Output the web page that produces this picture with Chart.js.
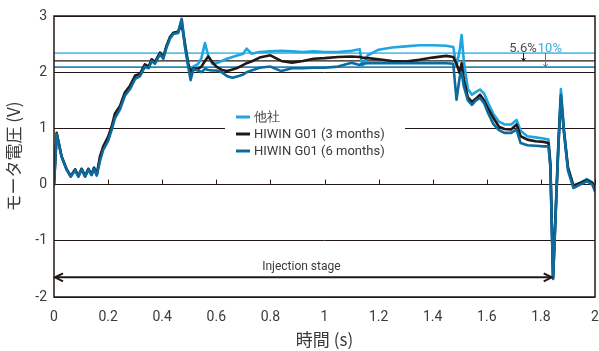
<!DOCTYPE html>
<html>
<head>
<meta charset="utf-8">
<script src="https://cdn.jsdelivr.net/npm/chart.js@4/dist/chart.umd.min.js"></script>
<style>
  html, body { margin: 0; padding: 0; background: #fff; }
  #wrap { width: 599px; height: 351px; }
</style>
</head>
<body>
<div id="wrap"><canvas id="voltChart"></canvas></div>
<script>
// time axis (s), shared by all three series
const times = [
  0, 0.01, 0.028, 0.047, 0.062, 0.078, 0.09, 0.102, 0.115, 0.127,
  0.139, 0.148, 0.158, 0.17, 0.182, 0.2, 0.213, 0.225, 0.244, 0.262,
  0.281, 0.3, 0.318, 0.336, 0.35, 0.361, 0.373, 0.392, 0.404, 0.416,
  0.429, 0.441, 0.459, 0.472, 0.484, 0.496, 0.505, 0.515, 0.533, 0.545,
  0.558, 0.57, 0.585, 0.6, 0.62, 0.64, 0.66, 0.68, 0.7, 0.712,
  0.73, 0.76, 0.8, 0.84, 0.88, 0.92, 0.96, 1.0, 1.05, 1.1,
  1.13, 1.14, 1.16, 1.2, 1.25, 1.3, 1.35, 1.4, 1.45, 1.476,
  1.488, 1.5, 1.507, 1.515, 1.53, 1.545, 1.56, 1.575, 1.59, 1.605,
  1.625, 1.645, 1.665, 1.69, 1.71, 1.725, 1.75, 1.78, 1.81, 1.828,
  1.835, 1.845, 1.852, 1.865, 1.874, 1.885, 1.9, 1.92, 1.945, 1.97,
  1.99, 2.0
];

// 他社
const otherMaker = [
  0, 0.9, 0.5, 0.27, 0.15, 0.27, 0.15, 0.28, 0.15, 0.28,
  0.18, 0.3, 0.18, 0.46, 0.66, 0.82, 1.0, 1.22, 1.37, 1.6,
  1.73, 1.9, 1.95, 2.12, 2.08, 2.22, 2.17, 2.34, 2.25, 2.46,
  2.63, 2.69, 2.72, 2.94, 2.52, 2.16, 2.0, 2.1, 2.15, 2.25,
  2.52, 2.3, 2.15, 2.16, 2.2, 2.24, 2.27, 2.3, 2.33, 2.42,
  2.33, 2.36, 2.37, 2.38, 2.37, 2.36, 2.37, 2.36, 2.36, 2.38,
  2.41, 2.1, 2.3, 2.4, 2.44, 2.46, 2.48, 2.48, 2.47, 2.45,
  2.1, 2.4, 2.66, 2.2, 1.7, 1.6, 1.65, 1.69, 1.62, 1.45,
  1.25, 1.12, 1.07, 1.07, 1.15, 0.96, 0.86, 0.84, 0.82, 0.8,
  0.4, -1.62, -0.8, 0.8, 1.7, 1.0, 0.3, -0.02, 0.03, 0.1,
  0.04, -0.1
];

// HIWIN G01 (3 months)
const hiwin3m = [
  0, 0.92, 0.5, 0.27, 0.15, 0.27, 0.15, 0.28, 0.15, 0.28,
  0.18, 0.3, 0.18, 0.5, 0.68, 0.85, 1.03, 1.26, 1.4, 1.64,
  1.76, 1.94, 1.97, 2.14, 2.1, 2.23, 2.18, 2.35, 2.27, 2.47,
  2.62, 2.7, 2.72, 2.86, 2.5, 2.15, 2.0, 2.07, 2.06, 2.1,
  2.2, 2.28, 2.18, 2.1, 2.04, 2.02, 2.05, 2.08, 2.13, 2.16,
  2.19, 2.26, 2.3, 2.2, 2.17, 2.2, 2.24, 2.25, 2.27, 2.28,
  2.27, 2.26, 2.25, 2.23, 2.2, 2.19, 2.22, 2.26, 2.29, 2.27,
  2.15, 1.98, 2.16, 1.87, 1.55, 1.47, 1.53, 1.6, 1.5, 1.35,
  1.18, 1.03, 0.99, 0.98, 1.07, 0.86, 0.8, 0.77, 0.76, 0.74,
  0.35, -1.66, -0.8, 0.75, 1.55, 0.95, 0.3, -0.02, 0.03, 0.08,
  0.03, -0.05
];

// HIWIN G01 (6 months)
const hiwin6m = [
  0, 0.9, 0.5, 0.26, 0.14, 0.26, 0.14, 0.27, 0.14, 0.27,
  0.17, 0.28, 0.16, 0.42, 0.62, 0.78, 0.97, 1.18, 1.34, 1.58,
  1.7, 1.88, 1.93, 2.1, 2.07, 2.2, 2.15, 2.32, 2.24, 2.44,
  2.6, 2.68, 2.7, 2.95, 2.45, 2.1, 1.86, 2.05, 2.03, 2.0,
  2.06, 2.04, 2.03, 2.03, 2.0, 1.93, 1.9, 1.93, 1.96, 2.0,
  2.03, 2.08, 2.1, 2.02, 2.07, 2.07, 2.08, 2.08, 2.1, 2.17,
  2.13, 2.15, 2.16, 2.16, 2.16, 2.16, 2.16, 2.16, 2.16, 2.15,
  1.51, 1.92, 2.0, 1.75, 1.5, 1.42, 1.5, 1.54, 1.45, 1.27,
  1.07, 0.97, 0.92, 0.92, 0.98, 0.74, 0.7, 0.69, 0.68, 0.68,
  0.3, -1.68, -0.85, 0.7, 1.6, 0.95, 0.25, -0.06, 0.0, 0.06,
  0.0, -0.12
];

const seriesNames = ['他社', 'HIWIN G01 (3 months)', 'HIWIN G01 (6 months)'];
const seriesColors = ['#1ea5e2', '#231815', '#0d6a9c'];

// tick values
const xTicks = [0, 0.2, 0.4, 0.6, 0.8, 1, 1.2, 1.4, 1.6, 1.8, 2];
const yTicks = [-2, -1, 0, 1, 2, 3];

// average levels (他社, 3 months, 6 months) and the % gaps
const avgLevels = [2.34, 2.2, 2.09];
const avgColors = ['#5cbfea', '#231815', '#2a86b8'];
const gapLabels = ['5.6%', '10%'];
const gapTimes = [1.733, 1.815];

// injection stage span
const injectionSpan = [0, 1.84];
const injectionLevel = -1.65;

const ink = '#231815';
const textGray = '#3a3a3a';

function toPoints(vals) {
  return times.map((t, i) => ({ x: t, y: vals[i] }));
}

function arrowHead(ctx, x, y, dir, len, half) {
  // dir: +1 points right, -1 points left
  ctx.beginPath();
  ctx.moveTo(x - dir * len, y - half);
  ctx.lineTo(x, y);
  ctx.lineTo(x - dir * len, y + half);
  ctx.stroke();
}

const extras = {
  id: 'extras',
  beforeDatasetsDraw(chart) {
    const ctx = chart.ctx;
    const xs = chart.scales.x, ys = chart.scales.y;
    const area = chart.chartArea;
    ctx.save();
    // legend backdrop (breaks the grid line at 1)
    ctx.fillStyle = '#fff';
    ctx.fillRect(225, 108, 180, 52);
    // average level lines
    avgLevels.forEach((v, i) => {
      const y = ys.getPixelForValue(v);
      ctx.strokeStyle = avgColors[i];
      ctx.lineWidth = i === 1 ? 1.2 : 1.8;
      ctx.beginPath();
      ctx.moveTo(area.left, y);
      ctx.lineTo(area.right, y);
      ctx.stroke();
    });
    // tick marks on the zero line
    const y0 = ys.getPixelForValue(0);
    ctx.strokeStyle = ink;
    ctx.lineWidth = 1;
    xTicks.forEach(t => {
      const x = Math.round(xs.getPixelForValue(t)) + 0.5;
      ctx.beginPath();
      ctx.moveTo(x, y0);
      ctx.lineTo(x, y0 - 5);
      ctx.stroke();
    });
    ctx.restore();
  },
  afterDatasetsDraw(chart) {
    const ctx = chart.ctx;
    const xs = chart.scales.x, ys = chart.scales.y;
    const area = chart.chartArea;
    ctx.save();

    // frame
    ctx.strokeStyle = ink;
    ctx.lineWidth = 1.5;
    ctx.strokeRect(area.left, area.top, area.right - area.left, area.bottom - area.top);

    // legend
    ctx.font = '13px Roboto';
    ctx.textBaseline = 'middle';
    const rows = [117, 134, 151];
    seriesNames.forEach((name, i) => {
      ctx.strokeStyle = seriesColors[i];
      ctx.lineWidth = 3;
      ctx.beginPath();
      ctx.moveTo(236, rows[i]);
      ctx.lineTo(250, rows[i]);
      ctx.stroke();
      ctx.fillStyle = textGray;
      ctx.fillText(name, 254, rows[i] + 1);
    });

    // gap arrows and labels
    const yTop = ys.getPixelForValue(avgLevels[0]);
    [1, 2].forEach((k, j) => {
      const x = Math.round(xs.getPixelForValue(gapTimes[j])) + 0.5;
      const yb = ys.getPixelForValue(avgLevels[k]);
      ctx.strokeStyle = j === 0 ? ink : '#2a86b8';
      ctx.lineWidth = 1;
      ctx.beginPath();
      ctx.moveTo(x, yTop);
      ctx.lineTo(x, yb);
      ctx.moveTo(x - 2, yb - 3);
      ctx.lineTo(x, yb);
      ctx.lineTo(x + 2, yb - 3);
      ctx.stroke();
    });
    const xLab = xs.getPixelForValue(gapTimes[0]) + 14;
    ctx.font = '13px Roboto';
    ctx.textBaseline = 'alphabetic';
    ctx.textAlign = 'right';
    ctx.fillStyle = '#4a4a4a';
    ctx.fillText(gapLabels[0], xLab, 52);
    ctx.textAlign = 'left';
    ctx.fillStyle = '#3fa9dc';
    ctx.fillText(gapLabels[1], xLab + 1, 52);

    // injection stage arrow
    const xa = xs.getPixelForValue(injectionSpan[0]) + 1;
    const xb = xs.getPixelForValue(injectionSpan[1]);
    const ya = ys.getPixelForValue(injectionLevel);
    ctx.strokeStyle = ink;
    ctx.lineWidth = 2;
    ctx.beginPath();
    ctx.moveTo(xa, ya);
    ctx.lineTo(xb, ya);
    ctx.stroke();
    arrowHead(ctx, xa, ya, -1, 8, 4);
    arrowHead(ctx, xb, ya, 1, 8, 4);
    ctx.font = '12px Roboto';
    ctx.textAlign = 'center';
    ctx.textBaseline = 'middle';
    ctx.fillStyle = textGray;
    ctx.fillText('Injection stage', (xa + xb) / 2 - 2, ya - 10);

    ctx.restore();
  }
};

const ctx = document.getElementById('voltChart').getContext('2d');
const voltChart = new Chart(ctx, {
  type: 'line',
  data: {
    datasets: [
      { label: seriesNames[0], data: toPoints(otherMaker), borderColor: seriesColors[0], order: 3 },
      { label: seriesNames[1], data: toPoints(hiwin3m), borderColor: seriesColors[1], order: 2 },
      { label: seriesNames[2], data: toPoints(hiwin6m), borderColor: seriesColors[2], order: 1 }
    ]
  },
  options: {
    responsive: true,
    maintainAspectRatio: false,
    animation: false,
    layout: { padding: { left: 0, right: 4, top: 16, bottom: 0 } },
    elements: {
      line: { borderWidth: 2.6, tension: 0, borderJoinStyle: 'round', borderCapStyle: 'round' },
      point: { radius: 0 }
    },
    plugins: {
      legend: { display: false },
      tooltip: { enabled: false }
    },
    scales: {
      x: {
        type: 'linear',
        min: 0,
        max: 2,
        afterBuildTicks: scale => { scale.ticks = xTicks.map(v => ({ value: v })); },
        afterFit: scale => {
          scale.height = 54;
          scale.paddingLeft = 0;
          scale.paddingRight = 0;
        },
        grid: { display: false, drawTicks: false },
        border: { display: false },
        ticks: {
          padding: 12,
          color: textGray,
          font: { family: 'Roboto', size: 14 },
          maxRotation: 0,
          callback: v => String(v)
        },
        title: {
          display: true,
          text: '時間 (s)',
          color: textGray,
          font: { family: '"Noto Sans CJK JP"', size: 17 },
          padding: { top: 0, bottom: 1 }
        }
      },
      y: {
        min: -2,
        max: 3,
        afterBuildTicks: scale => { scale.ticks = yTicks.map(v => ({ value: v })); },
        afterFit: scale => {
          scale.width = 54;
          scale.paddingTop = 0;
          scale.paddingBottom = 0;
        },
        grid: { color: ink, lineWidth: 1, drawTicks: false },
        border: { display: false },
        ticks: {
          padding: 7,
          color: textGray,
          font: { family: 'Roboto', size: 14 },
          callback: v => String(v)
        },
        title: {
          display: true,
          text: 'モータ電圧 (V)',
          color: textGray,
          font: { family: '"Noto Sans CJK JP"', size: 17 },
          padding: { top: 3, bottom: 0 }
        }
      }
    }
  },
  plugins: [extras]
});
</script>
</body>
</html>
